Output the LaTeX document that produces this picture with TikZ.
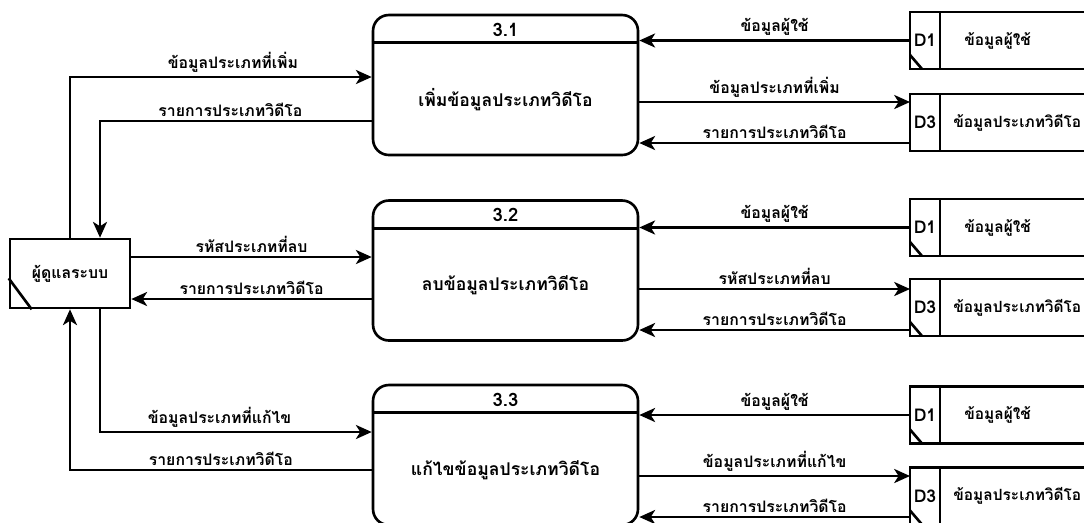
\documentclass[tikz,border=0pt]{standalone}
\usepackage{fontspec}
\newfontfamily\thaifont[Script=Thai]{Loma}
\usetikzlibrary{arrows.meta,calc,positioning}

\tikzset{
  every node/.style={font=\thaifont\bfseries\fontsize{9}{11}\selectfont},
  proc/.style={draw, line width=1.5pt, rounded corners=9pt, minimum width=5.3cm, minimum height=2.8cm},
  pid/.style={font=\thaifont\bfseries\fontsize{10.5}{13}\selectfont},
  ptext/.style={font=\thaifont\bfseries\fontsize{10}{12}\selectfont},
  extent/.style={draw, line width=1.5pt, minimum width=2.4cm, minimum height=1.38cm, inner sep=0pt},
  storeid/.style={draw, line width=1.5pt, minimum width=0.6cm, minimum height=1.14cm, inner sep=0pt, outer sep=0pt,
    font=\thaifont\bfseries\fontsize{10}{12}\selectfont},
  storename/.style={draw, line width=1.5pt, minimum width=3cm, minimum height=1.14cm, inner sep=0pt, outer sep=0pt},
  stext/.style={anchor=west, inner sep=0pt, font=\thaifont\bfseries\fontsize{8.8}{11}\selectfont},
  flow/.style={line width=1.5pt, -{Stealth[length=9pt,width=8pt,inset=2.5pt]}},
  lbl/.style={above, inner sep=2pt},
}

\begin{document}
\begin{tikzpicture}[x=0.02cm, y=-0.02cm]
  \clip (0,0) rectangle (1084,522);

  % external entity
  \node[extent] (admin) at (70,273.5) {ผู้ดูแลระบบ};
  \draw[line width=1.5pt] ($(admin.south west)+(0,-31)$) -- ($(admin.south west)+(23,0)$);

  % processes 3.1 - 3.3
  \foreach \n/\y/\t in {1/85/เพิ่มข้อมูลประเภทวิดีโอ, 2/270.5/ลบข้อมูลประเภทวิดีโอ, 3/455/แก้ไขข้อมูลประเภทวิดีโอ}{
    \node[proc] (p\n) at (505.5,\y) {};
    \draw[line width=1.5pt] ($(p\n.north west)+(0,29)$) -- ($(p\n.north east)+(0,29)$);
    \node[pid] (p\n-id) at ($(p\n.north)+(0,16)$) {3.\n};
    \node[ptext] (p\n-t) at ($(p\n.center)+(0,15)$) {\t};
  }

  % data stores
  \foreach \n/\k/\y in {11/1/40.5, 31/3/122.5, 12/1/227.5, 32/3/307.5, 13/1/415, 33/3/496}{
    \node[storeid] (s\n) at (925,\y) {D\k};
    \node[storename, right=0pt of s\n] (s\n-n) {};
  }
  \foreach \s in {s11,s12,s13}
    \node[stext] at ($(\s-n.west)+(24,0)$) {ข้อมูลผู้ใช้};
  \foreach \s in {s31,s32,s33}
    \node[stext] at ($(\s-n.west)+(13,0)$) {ข้อมูลประเภทวิดีโอ};
  \foreach \s in {s11,s12,s32,s13,s33}
    \draw[line width=1.5pt] ($(\s.south west)+(0,-14)$) -- ($(\s.south west)+(12,0)$);

  % flows: admin <-> processes
  \draw[flow] (admin.north -| 70,0) |- (p1.west |- 0,77) node[lbl, pos=0.77] {ข้อมูลประเภทที่เพิ่ม};
  \draw[flow] (p1.west |- 0,121) -| (admin.north -| 100,0) node[lbl, pos=0.26] {รายการประเภทวิดีโอ};
  \draw[flow] (admin.east |- 0,257) -- (p2.west |- 0,257) node[lbl, midway] {รหัสประเภทที่ลบ};
  \draw[flow] (p2.west |- 0,299) -- (admin.east |- 0,299) node[lbl, midway] {รายการประเภทวิดีโอ};
  \draw[flow] (admin.south -| 100,0) |- (p3.west |- 0,432) node[lbl, pos=0.72] {ข้อมูลประเภทที่แก้ไข};
  \draw[flow] (p3.west |- 0,470) -| (admin.south -| 70,0) node[lbl, pos=0.25] {รายการประเภทวิดีโอ};

  % flows: processes <-> stores
  \draw[flow] (s11.west) -- (s11.west -| p1.east) node[lbl, midway] {ข้อมูลผู้ใช้};
  \draw[flow] (p1.east |- 0,102) -- (s31.west |- 0,102) node[lbl, midway] {ข้อมูลประเภทที่เพิ่ม};
  \draw[flow] (s31.west |- 0,143) -- (p1.east |- 0,143) node[lbl, midway] {รายการประเภทวิดีโอ};

  \draw[flow] (s12.west) -- (s12.west -| p2.east) node[lbl, midway] {ข้อมูลผู้ใช้};
  \draw[flow] (p2.east |- 0,289) -- (s32.west |- 0,289) node[lbl, midway] {รหัสประเภทที่ลบ};
  \draw[flow] (s32.west |- 0,330) -- (p2.east |- 0,330) node[lbl, midway] {รายการประเภทวิดีโอ};

  \draw[flow] (s13.west) -- (s13.west -| p3.east) node[lbl, midway] {ข้อมูลผู้ใช้};
  \draw[flow] (p3.east |- 0,476) -- (s33.west |- 0,476) node[lbl, midway] {ข้อมูลประเภทที่แก้ไข};
  \draw[flow] (s33.west |- 0,517) -- (p3.east |- 0,517) node[lbl, midway] {รายการประเภทวิดีโอ};
\end{tikzpicture}
\end{document}
